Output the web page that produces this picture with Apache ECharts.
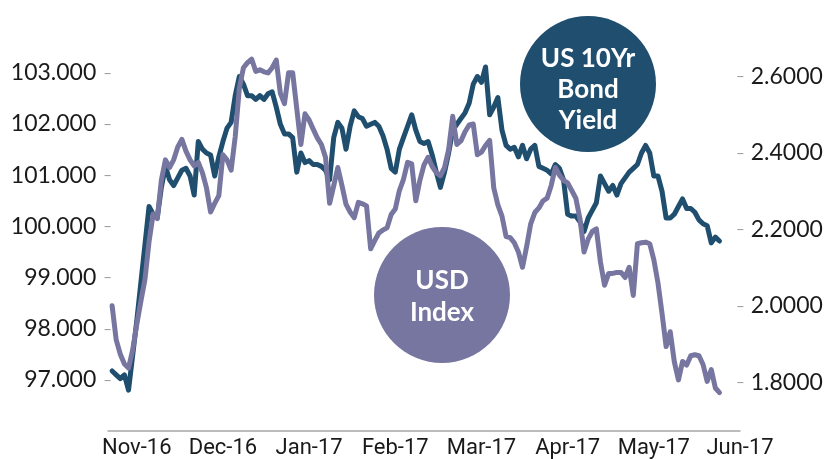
<!DOCTYPE html>
<html>
<head>
<meta charset="utf-8">
<script src="https://cdn.jsdelivr.net/npm/echarts@6/dist/echarts.min.js"></script>
<style>
  html, body { margin: 0; padding: 0; background: #fff; }
  #chart { width: 832px; height: 459px; }
</style>
</head>
<body>
<div id="chart"></div>
<script>
// trading days, first category is an empty slot before the data starts
const firstDay = [2016, 9, 28];
const dayCount = 155;
const holidays = ['2016-11-24', '2016-12-26', '2017-01-02', '2017-01-16', '2017-02-20', '2017-04-14', '2017-05-29'];

// x labels, one every 21 trading days starting at the 8th category
const xTickLabels = ['Nov-16', 'Dec-16', 'Jan-17', 'Feb-17', 'Mar-17', 'Apr-17', 'May-17', 'Jun-17'];
const labelStart = 7;
const labelStep = 21;

// US 10Yr bond yield (right axis)
const bondYield = [
  1.83, 1.82, 1.81, 1.82, 1.78, 1.87, 1.96, 2.06, 2.16, 2.26,
  2.24, 2.23, 2.31, 2.365, 2.33, 2.315, 2.335, 2.355, 2.36, 2.34,
  2.29, 2.43, 2.41, 2.40, 2.395, 2.34, 2.39, 2.43, 2.465, 2.48,
  2.55, 2.60, 2.58, 2.55, 2.55, 2.54, 2.55, 2.54, 2.555, 2.56,
  2.52, 2.475, 2.45, 2.45, 2.44, 2.35, 2.40, 2.375, 2.38, 2.37,
  2.37, 2.365, 2.355, 2.33, 2.44, 2.48, 2.465, 2.41, 2.47, 2.51,
  2.495, 2.49, 2.47, 2.475, 2.48, 2.47, 2.445, 2.41, 2.36, 2.35,
  2.41, 2.44, 2.47, 2.50, 2.46, 2.43, 2.425, 2.43, 2.395, 2.35,
  2.31, 2.35, 2.40, 2.46, 2.475, 2.49, 2.505, 2.53, 2.58, 2.60,
  2.585, 2.625, 2.50, 2.52, 2.545, 2.46, 2.42, 2.41, 2.415, 2.39,
  2.42, 2.385, 2.41, 2.42, 2.365, 2.36, 2.355, 2.345, 2.37, 2.36,
  2.33, 2.24, 2.235, 2.235, 2.22, 2.195, 2.23, 2.25, 2.27, 2.34,
  2.32, 2.30, 2.315, 2.29, 2.32, 2.335, 2.35, 2.36, 2.37, 2.40,
  2.42, 2.40, 2.34, 2.34, 2.30, 2.23, 2.23, 2.24, 2.26, 2.28,
  2.255, 2.255, 2.245, 2.225, 2.215, 2.21, 2.165, 2.18, 2.17
];

// USD index (left axis)
const usdIndex = [
  98.45, 97.78, 97.50, 97.31, 97.23, 97.58, 98.08, 98.53, 98.96, 99.70,
  100.24, 100.15, 100.9, 101.3, 101.15, 101.3, 101.55, 101.7, 101.47, 101.3,
  101.18, 101.25, 101.05, 100.75, 100.28, 100.45, 100.6, 101.4, 101.3, 101.1,
  101.75, 102.7, 103.1, 103.2, 103.27, 103.03, 103.06, 103.02, 103.0, 103.1,
  103.25, 102.6, 102.4, 103.0, 103.0, 102.3, 101.6, 102.2, 102.08, 101.9,
  101.73, 101.6, 101.35, 100.45, 100.79, 101.15, 100.8, 100.43, 100.28, 100.17,
  100.47, 100.44, 100.40, 99.56, 99.72, 99.87, 99.93, 99.97, 100.23, 100.34,
  100.7, 100.92, 101.25, 101.22, 100.5, 100.9, 101.2, 101.35, 101.17, 101.05,
  100.99, 101.15, 101.5, 102.15, 101.6, 101.67, 101.85, 101.98, 102.0, 101.4,
  101.45, 101.58, 101.68, 100.75, 100.42, 100.2, 99.8, 99.78, 99.68, 99.5,
  99.2, 99.6, 100.05, 100.27, 100.36, 100.5, 100.55, 100.8, 101.15, 101.0,
  100.9, 100.85, 100.7, 100.55, 100.15, 99.5, 99.75, 99.9, 99.95, 99.3,
  98.85, 99.08, 99.08, 99.1, 99.1, 99.0, 99.2, 98.65, 99.66, 99.68,
  99.69, 99.66, 99.35, 98.9, 98.3, 97.65, 97.94, 97.35, 97.0, 97.36,
  97.29, 97.47, 97.49, 97.47, 97.3, 96.97, 97.2, 96.84, 96.75
];

const navy = '#1f4e6e';
const violet = '#7676a0';

const tradeDays = [];
const day = new Date(Date.UTC(firstDay[0], firstDay[1], firstDay[2]));
while (tradeDays.length < dayCount) {
  const s = day.toISOString().slice(0, 10);
  const wd = day.getUTCDay();
  if (wd !== 0 && wd !== 6 && holidays.indexOf(s) < 0) tradeDays.push(s);
  day.setUTCDate(day.getUTCDate() + 1);
}

const labelFont = 'Lato';
const chart = echarts.init(document.getElementById('chart'), null, { renderer: 'canvas' });

const option = {
  animation: false,
  grid: [
    { left: 108, right: 92, top: 21.7, bottom: 25.9 },
    { left: 108, right: 92, top: -11, bottom: -10 }
  ],
  xAxis: [
    {
      type: 'category',
      gridIndex: 0,
      data: tradeDays,
      boundaryGap: false,
      axisLine: { lineStyle: { color: '#a6a6a6', width: 1.5 } },
      axisTick: { show: false },
      axisLabel: {
        interval: function (idx) {
          return idx >= labelStart && (idx - labelStart) % labelStep === 0;
        },
        formatter: function (value, idx) {
          return xTickLabels[(idx - labelStart) / labelStep] || '';
        },
        margin: 6,
        fontFamily: 'Roboto',
        fontSize: 22,
        color: '#1a1a1a'
      },
      splitLine: { show: false }
    },
    {
      type: 'category',
      gridIndex: 1,
      data: tradeDays,
      boundaryGap: false,
      show: false
    }
  ],
  yAxis: [
    {
      type: 'value',
      gridIndex: 0,
      position: 'left',
      min: 96,
      max: 104,
      interval: 1,
      axisLine: { show: false },
      axisTick: { show: false },
      splitLine: { show: false },
      axisLabel: {
        margin: -4,
        formatter: function (v) {
          if (v < 96.5 || v > 103.5) return '';
          return '{v|' + v.toFixed(3) + '}{d|–}';
        },
        rich: {
          v: { fontFamily: labelFont, fontSize: 23, color: '#1a1a1a', verticalAlign: 'middle' },
          d: { fontFamily: labelFont, fontSize: 15, color: '#9a9a9a', padding: [0, 0, 0, 7], verticalAlign: 'middle' }
        }
      }
    },
    {
      type: 'value',
      gridIndex: 1,
      position: 'right',
      min: 1.6,
      max: 2.8,
      interval: 0.2,
      axisLine: { show: false },
      axisTick: { show: false },
      splitLine: { show: false },
      axisLabel: {
        margin: -4,
        formatter: function (v) {
          if (v < 1.7 || v > 2.7) return '';
          return '{d|–}{v|' + v.toFixed(4) + '}';
        },
        rich: {
          v: { fontFamily: labelFont, fontSize: 23, color: '#1a1a1a', verticalAlign: 'middle' },
          d: { fontFamily: labelFont, fontSize: 15, color: '#9a9a9a', padding: [0, 6, 0, 0], verticalAlign: 'middle' }
        }
      }
    }
  ],
  series: [
    {
      name: 'US 10Yr Bond Yield',
      type: 'line',
      xAxisIndex: 1,
      yAxisIndex: 1,
      data: [null].concat(bondYield),
      showSymbol: false,
      symbol: 'none',
      lineStyle: { color: navy, width: 5, cap: 'round', join: 'round' },
      z: 2
    },
    {
      name: 'USD Index',
      type: 'line',
      xAxisIndex: 0,
      yAxisIndex: 0,
      data: [null].concat(usdIndex),
      showSymbol: false,
      symbol: 'none',
      lineStyle: { color: violet, width: 5, cap: 'round', join: 'round' },
      z: 3
    }
  ],
  graphic: [
    { type: 'circle', shape: { cx: 588, cy: 84, r: 68 }, style: { fill: navy }, z: 100 },
    {
      type: 'text', x: 588, y: 90, z: 101,
      style: { text: 'US 10Yr\nBond\nYield', fill: '#fff', fontFamily: labelFont, fontSize: 26, fontWeight: 'bold', align: 'center', verticalAlign: 'middle', lineHeight: 31 }
    },
    { type: 'circle', shape: { cx: 442, cy: 295, r: 68 }, style: { fill: violet }, z: 100 },
    {
      type: 'text', x: 442, y: 297, z: 101,
      style: { text: 'USD\nIndex', fill: '#fff', fontFamily: labelFont, fontSize: 26, fontWeight: 'bold', align: 'center', verticalAlign: 'middle', lineHeight: 32 }
    }
  ]
};

chart.setOption(option);
</script>
</body>
</html>
